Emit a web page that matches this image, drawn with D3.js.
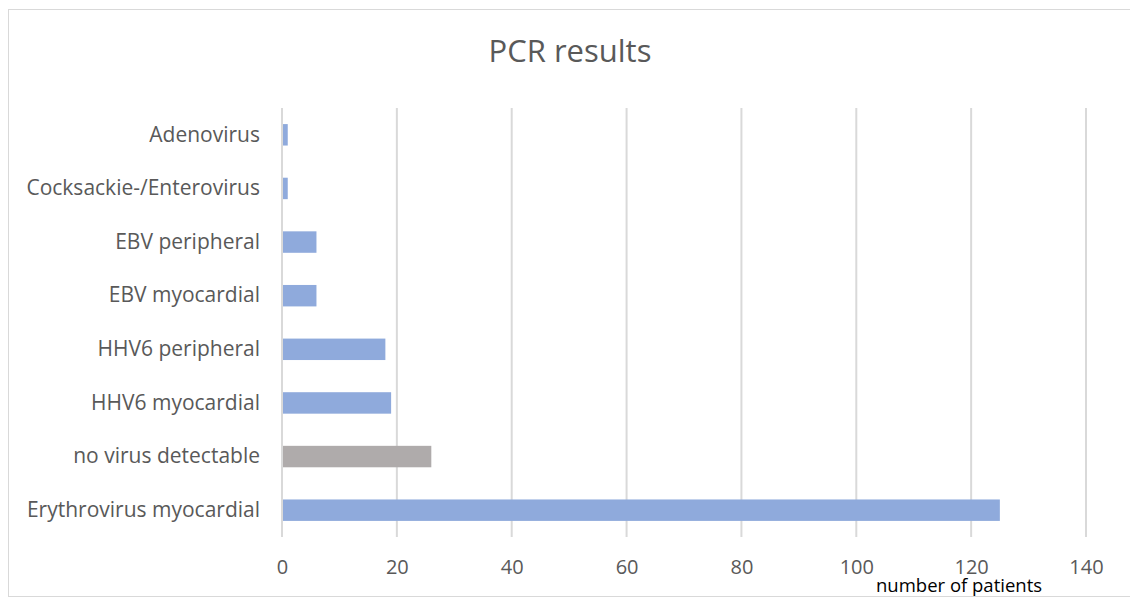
<!DOCTYPE html>
<html>
<head>
<meta charset="utf-8">
<script src="https://cdn.jsdelivr.net/npm/d3@7"></script>
<style>
  html, body { margin: 0; padding: 0; background: #fff; }
  svg { display: block; font-family: "Open Sans", "Noto Sans", sans-serif; }
</style>
</head>
<body>
<svg id="chart" width="1130" height="599"></svg>
<script>
// PCR findings per patient group (top to bottom as listed on the axis)
const categories = [
  "Adenovirus",
  "Cocksackie-/Enterovirus",
  "EBV peripheral",
  "EBV myocardial",
  "HHV6 peripheral",
  "HHV6 myocardial",
  "no virus detectable",
  "Erythrovirus myocardial"
];
const patients = [1, 1, 6, 6, 18, 19, 26, 125];
const barColors = ["#8faadc", "#8faadc", "#8faadc", "#8faadc", "#8faadc", "#8faadc", "#afabab", "#8faadc"];
const xTicks = [0, 20, 40, 60, 80, 100, 120, 140];

const svg = d3.select("#chart");
const W = 1130;
const plot = { left: 282, right: 1086, top: 108, bottom: 537 };
const font = "'Open Sans', 'Noto Sans', sans-serif";

// chart frame
svg.append("rect")
  .attr("x", 8.5).attr("y", 9.5)
  .attr("width", W + 10).attr("height", 587)
  .attr("fill", "#fff").attr("stroke", "#d9d9d9").attr("stroke-width", 1);

const x = d3.scaleLinear().domain([0, 140]).range([plot.left, plot.right]);
const y = d3.scaleBand().domain(categories).range([plot.top, plot.bottom]).paddingInner(0.6).paddingOuter(0.3);

// vertical gridlines
svg.append("g")
  .selectAll("line")
  .data(xTicks)
  .join("line")
  .attr("x1", d => x(d)).attr("x2", d => x(d))
  .attr("y1", plot.top).attr("y2", plot.bottom)
  .attr("stroke", "#d9d9d9").attr("stroke-width", 2);

// bars
svg.append("g")
  .selectAll("rect")
  .data(categories)
  .join("rect")
  .attr("x", x(0) + 1)
  .attr("y", d => y(d))
  .attr("width", (d, i) => x(patients[i]) - x(0) - 1)
  .attr("height", y.bandwidth())
  .attr("fill", (d, i) => barColors[i]);

// category axis labels
const yAxis = d3.axisLeft(y).tickSize(0).tickPadding(22);
const gy = svg.append("g").attr("transform", `translate(${plot.left},0)`).call(yAxis);
gy.select(".domain").remove();
gy.selectAll("text")
  .attr("font-size", 21).attr("fill", "#595959")
  .attr("font-family", font);

// value axis labels
const xAxis = d3.axisBottom(x).tickValues(xTicks).tickSize(0).tickPadding(23);
const gx = svg.append("g").attr("transform", `translate(0,${plot.bottom})`).call(xAxis);
gx.select(".domain").remove();
gx.selectAll("text")
  .attr("font-size", 20).attr("fill", "#595959")
  .attr("font-family", font);

// title
svg.append("text")
  .attr("x", 570).attr("y", 62)
  .attr("text-anchor", "middle")
  .attr("font-size", 31).attr("fill", "#595959")
  .text("PCR results");

// axis title
svg.append("text")
  .attr("x", 876).attr("y", 592)
  .attr("font-size", 18.5).attr("fill", "#000")
  .text("number of patients");
</script>
</body>
</html>
